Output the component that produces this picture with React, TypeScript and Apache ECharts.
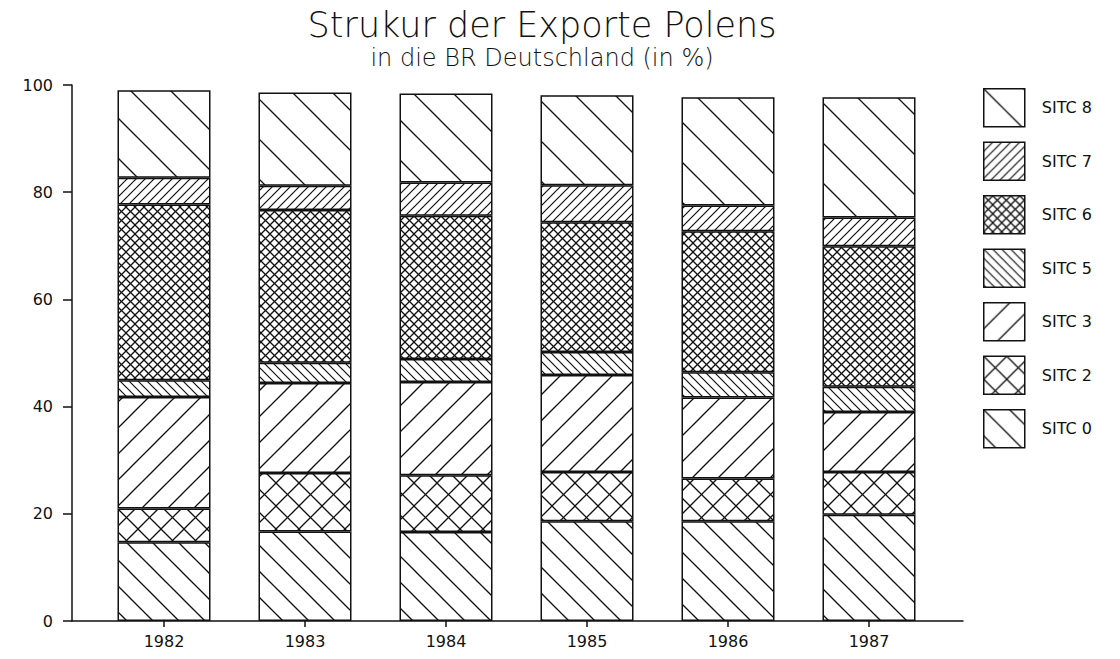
import React, { useEffect, useRef } from 'react';
import * as echarts from 'echarts';

const years = ['1982', '1983', '1984', '1985', '1986', '1987'];
const sitc0 = [14.7, 16.7, 16.6, 18.6, 18.6, 19.8];
const sitc2 = [6.3, 10.9, 10.6, 9.2, 8.0, 8.0];
const sitc3 = [20.8, 16.8, 17.4, 18.1, 15.1, 11.2];
const sitc5 = [3.1, 3.8, 4.3, 4.3, 4.7, 4.7];
const sitc6 = [32.8, 28.5, 26.7, 24.2, 26.3, 26.2];
const sitc7 = [5.0, 4.5, 6.2, 6.9, 4.8, 5.4];
const sitc8 = [16.3, 17.4, 16.6, 16.8, 20.2, 22.4];

const stackOrder = ['SITC 0', 'SITC 2', 'SITC 3', 'SITC 5', 'SITC 6', 'SITC 7', 'SITC 8'];
const stackValues = [sitc0, sitc2, sitc3, sitc5, sitc6, sitc7, sitc8];
const legendOrder = ['SITC 8', 'SITC 7', 'SITC 6', 'SITC 5', 'SITC 3', 'SITC 2', 'SITC 0'];

const titleText = 'Strukur der Exporte Polens';
const subtitleText = 'in die BR Deutschland (in %)';

const FONT = '"DejaVu Sans", sans-serif';
const INK = '#111';

type Kind = 'fwd' | 'back' | 'cross';

function makeHatch(period: number, kind: Kind, lw: number) {
  const c = document.createElement('canvas');
  const p = period;
  c.width = p;
  c.height = p;
  const g = c.getContext('2d')!;
  g.fillStyle = '#fff';
  g.fillRect(0, 0, p, p);
  g.strokeStyle = INK;
  g.lineWidth = lw;
  const seg = (x1: number, y1: number, x2: number, y2: number) => {
    g.beginPath();
    g.moveTo(x1, y1);
    g.lineTo(x2, y2);
    g.stroke();
  };
  if (kind === 'back' || kind === 'cross') {
    seg(-2, -2, p + 2, p + 2);
    seg(p - 3, -3, p + 3, 3);
    seg(-3, p - 3, 3, p + 3);
  }
  if (kind === 'fwd' || kind === 'cross') {
    seg(-2, p + 2, p + 2, -2);
    seg(-3, 3, 3, -3);
    seg(p - 3, p + 3, p + 3, p - 3);
  }
  return { image: c, repeat: 'repeat', imageWidth: p, imageHeight: p };
}

export default function App() {
  const ref = useRef<HTMLDivElement>(null);

  useEffect(() => {
    document.body.style.margin = '0';
    if (!ref.current) return;
    const chart = echarts.init(ref.current, null, { renderer: 'svg' });

    const patterns: Record<string, any> = {
      'SITC 0': makeHatch(26, 'back', 1.3),
      'SITC 2': makeHatch(23, 'cross', 1.3),
      'SITC 3': makeHatch(26, 'fwd', 1.3),
      'SITC 5': makeHatch(9, 'back', 1.2),
      'SITC 6': makeHatch(9, 'cross', 1.3),
      'SITC 7': makeHatch(9, 'fwd', 1.2),
      'SITC 8': makeHatch(40, 'back', 1.3),
    };

    const series = stackOrder.map((name, k) => ({
      name,
      type: 'bar',
      stack: 'total',
      barWidth: 93,
      xAxisIndex: 0,
      yAxisIndex: 0,
      data: stackValues[k],
      itemStyle: {
        color: patterns[name],
        borderColor: INK,
        borderWidth: 1.5,
      },
      emphasis: { disabled: true },
    }));

    chart.setOption({
      animation: false,
      backgroundColor: '#fff',
      graphic: [
        {
          type: 'text',
          x: 542,
          y: 25,
          style: {
            text: titleText,
            fontSize: 35,
            fontFamily: FONT,
            fontWeight: 200,
            fill: INK,
            align: 'center',
            verticalAlign: 'middle',
          },
        },
        {
          type: 'text',
          x: 542,
          y: 58,
          style: {
            text: subtitleText,
            fontSize: 24,
            fontFamily: FONT,
            fontWeight: 200,
            fill: INK,
            align: 'center',
            verticalAlign: 'middle',
          },
        },
      ],
      legend: {
        orient: 'vertical',
        left: 978,
        top: 83,
        itemWidth: 41,
        itemHeight: 38,
        itemGap: 14,
        icon: 'rect',
        selectedMode: false,
        data: legendOrder,
        textStyle: {
          fontSize: 16,
          fontFamily: FONT,
          color: INK,
          padding: [0, 0, 0, 12],
        },
        itemStyle: { borderColor: INK, borderWidth: 1.5 },
      },
      grid: [
        { left: 93.5, right: 180.5, top: 85, bottom: 38, containLabel: false },
        { left: 72, right: 157, top: 85, bottom: 38, containLabel: false },
      ],
      xAxis: [
        {
          gridIndex: 0,
          type: 'category',
          data: years,
          axisLine: { show: false },
          axisTick: {
            show: true,
            alignWithLabel: true,
            length: 6,
            lineStyle: { color: INK, width: 1.5 },
          },
          axisLabel: {
            margin: 12,
            fontSize: 16,
            fontFamily: FONT,
            color: INK,
          },
        },
        {
          gridIndex: 1,
          type: 'value',
          min: 0,
          max: 1,
          axisLine: { show: true, lineStyle: { color: INK, width: 1.5 } },
          axisTick: { show: false },
          axisLabel: { show: false },
          splitLine: { show: false },
        },
      ],
      yAxis: [
        {
          gridIndex: 0,
          type: 'value',
          min: 0,
          max: 100,
          interval: 20,
          offset: 21.5,
          splitLine: { show: false },
          axisLine: { show: true, lineStyle: { color: INK, width: 1.5 } },
          axisTick: { show: true, length: 9, lineStyle: { color: INK, width: 1.5 } },
          axisLabel: {
            margin: 19,
            fontSize: 16,
            fontFamily: FONT,
            color: INK,
          },
        },
        {
          gridIndex: 1,
          type: 'value',
          min: 0,
          max: 1,
          show: false,
        },
      ],
      series,
    });

    return () => chart.dispose();
  }, []);

  return <div ref={ref} style={{ width: 1120, height: 659 }} />;
}
